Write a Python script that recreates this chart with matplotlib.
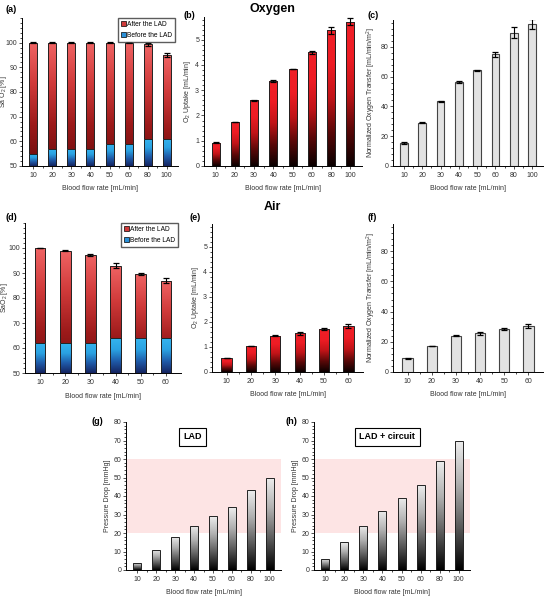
import numpy as np
import matplotlib
matplotlib.use('Agg')
import matplotlib.pyplot as plt
from matplotlib.colors import LinearSegmentedColormap
from matplotlib.patches import Patch
from matplotlib.ticker import MultipleLocator, FixedLocator

plt.rcParams['font.family'] = ['Liberation Sans', 'DejaVu Sans']
plt.rcParams['mathtext.default'] = 'regular'

# --- data ---
flow_o2 = ['10', '20', '30', '40', '50', '60', '80', '100']
flow_air = ['10', '20', '30', '40', '50', '60']

sao2_after_o2 = [100, 100, 100, 100, 100, 100, 99.3, 95.0]
sao2_after_o2_err = [0.1, 0.1, 0.1, 0.1, 0.1, 0.1, 0.5, 1.0]
sao2_before_o2 = [55, 57, 57, 57, 59, 59, 61, 61]

uptake_o2 = [0.92, 1.75, 2.60, 3.37, 3.85, 4.50, 5.37, 5.72]
uptake_o2_err = [0.02, 0.01, 0.01, 0.03, 0.01, 0.06, 0.15, 0.13]

transfer_o2 = [15.3, 29.0, 43.3, 56.3, 64.2, 75.0, 89.5, 95.2]
transfer_o2_err = [0.5, 0.3, 0.2, 0.8, 0.3, 1.5, 3.5, 3.2]

sao2_after_air = [100, 99.0, 97.3, 93.0, 89.7, 87.0]
sao2_after_air_err = [0.1, 0.1, 0.5, 0.9, 0.5, 0.9]
sao2_before_air = [62, 62, 62, 64, 64, 64]

uptake_air = [0.55, 1.03, 1.44, 1.55, 1.71, 1.83]
uptake_air_err = [0.01, 0.01, 0.02, 0.06, 0.03, 0.07]

transfer_air = [9.0, 17.3, 24.0, 25.8, 28.3, 30.5]
transfer_air_err = [0.2, 0.2, 0.4, 1.0, 0.6, 1.5]

dp_lad = [4, 11, 18, 24, 29, 34, 43, 50]
dp_circuit = [6, 15, 24, 32, 39, 46, 59, 70]

# 色
cm_sat_red = LinearSegmentedColormap.from_list('satred', ['#6a0c0c', '#9c1a1a', '#d03a3a', '#f06464'])
cm_sat_blue = LinearSegmentedColormap.from_list('satblue', ['#152460', '#1f5aa8', '#2aa2e2', '#35b4ee'])
cm_red = LinearSegmentedColormap.from_list('red', ['#0a0000', '#5a0808', '#c01418', '#ee1c24', '#f02028'])
cm_gray = LinearSegmentedColormap.from_list('gray', ['#000000', '#5a5a5a', '#b0b0b0', '#eeeeee'])

fig = plt.figure(figsize=(5.46, 5.97), dpi=100)
W, H = 546, 597


def add_ax(x0, y0, x1, y1):
    # ピクセル座標 -> figure座標
    return fig.add_axes([x0 / W, 1 - y1 / H, (x1 - x0) / W, (y1 - y0) / H])


def gradient_bars(ax, vals, cmap, bottom=0, width=0.42, edge='#222222', zorder=2):
    x = np.arange(len(vals))
    heights = np.array(vals) - bottom
    bars = ax.bar(x, heights, width, bottom=bottom, facecolor='none',
                  edgecolor=edge, linewidth=0.7, zorder=zorder + 1)
    grad = np.linspace(0, 1, 256).reshape(-1, 1)
    for b in bars:
        x0, y0, w, h = b.get_x(), b.get_y(), b.get_width(), b.get_height()
        im = ax.imshow(grad, extent=(x0, x0 + w, y0, y0 + h), origin='lower',
                       aspect='auto', cmap=cmap, zorder=zorder, interpolation='bilinear')
        im.set_clip_path(b)
    return bars


def style(ax, labels, ylim, major, minor, ylabel, xlabel=True):
    n = len(labels)
    ax.set_xlim(-0.6, n - 0.4)
    ax.set_ylim(*ylim)
    ax.set_xticks(np.arange(n))
    ax.set_xticklabels(labels)
    ax.xaxis.set_minor_locator(FixedLocator(np.arange(n - 1) + 0.5))
    ax.yaxis.set_major_locator(MultipleLocator(major))
    ax.yaxis.set_minor_locator(MultipleLocator(minor))
    for s in ['top', 'right']:
        ax.spines[s].set_visible(False)
    for s in ['left', 'bottom']:
        ax.spines[s].set_linewidth(0.7)
    ax.tick_params(labelsize=5, length=2, width=0.6, colors='#333333')
    ax.tick_params(which='minor', length=1.5, width=0.5)
    ax.tick_params(axis='x', pad=2.5)
    ax.tick_params(axis='y', pad=1.5)
    ax.set_ylabel(ylabel, fontsize=5, labelpad=1.5, color='#333333')
    if xlabel:
        ax.set_xlabel('Blood flow rate [mL/min]', fontsize=5, labelpad=4.5, color='#333333')


def errbars(ax, vals, err):
    ax.errorbar(np.arange(len(vals)), vals, yerr=err, fmt='none', ecolor='black',
                elinewidth=0.8, capsize=2.5, capthick=0.9, zorder=5)


def sat_legend(ax):
    handles = [Patch(facecolor='#d03a3a', edgecolor='black', linewidth=0.5, label='After the LAD'),
               Patch(facecolor='#2a90d8', edgecolor='black', linewidth=0.5, label='Before the LAD')]
    ax.legend(handles=handles, loc='upper right', bbox_to_anchor=(1.0, 1.02), fontsize=4.8,
              frameon=True, edgecolor='#333333', fancybox=False, handlelength=0.7,
              handleheight=0.7, handletextpad=0.2, borderpad=0.4, labelspacing=0.6)


def panel_label(x, y, s):
    fig.text(x / W, 1 - y / H, s, fontsize=6.5, fontweight='bold', ha='left', va='center')


# (a)
ax = add_ax(22, 18, 178, 166)
gradient_bars(ax, sao2_after_o2, cm_sat_red, bottom=50)
gradient_bars(ax, sao2_before_o2, cm_sat_blue, bottom=50, zorder=4)
errbars(ax, sao2_after_o2, sao2_after_o2_err)
style(ax, flow_o2, (50, 110), 10, 2, 'Sa O$_2$ [%]')
ax.set_yticks([50, 60, 70, 80, 90, 100])
ax.yaxis.set_label_coords(-12.5 / 156, 0.5)
sat_legend(ax)

# (b)
ax = add_ax(204, 17, 362, 166)
gradient_bars(ax, uptake_o2, cm_red)
errbars(ax, uptake_o2, uptake_o2_err)
style(ax, flow_o2, (0, 5.9), 1, 0.2, 'O$_2$ Uptake [mL/min]')

# (c)
ax = add_ax(393, 20, 543, 166)
ax.bar(np.arange(len(transfer_o2)), transfer_o2, 0.42, facecolor='#e2e2e2',
       edgecolor='#444444', linewidth=0.8, zorder=2)
errbars(ax, transfer_o2, transfer_o2_err)
style(ax, flow_o2, (0, 98), 20, 4, 'Normalized Oxygen Transfer [mL/min/m$^2$]')

# (d)
ax = add_ax(25, 223, 181, 373)
gradient_bars(ax, sao2_after_air, cm_sat_red, bottom=50)
gradient_bars(ax, sao2_before_air, cm_sat_blue, bottom=50, zorder=4)
errbars(ax, sao2_after_air, sao2_after_air_err)
style(ax, flow_air, (50, 110), 10, 2, 'SaO$_2$ [%]')
ax.set_yticks([50, 60, 70, 80, 90, 100])
ax.yaxis.set_label_coords(-14.5 / 156, 0.5)
sat_legend(ax)

# (e)
ax = add_ax(212, 224, 363, 372)
gradient_bars(ax, uptake_air, cm_red)
errbars(ax, uptake_air, uptake_air_err)
style(ax, flow_air, (0, 5.9), 1, 0.2, 'O$_2$ Uptake [mL/min]')

# (f)
ax = add_ax(393, 224, 543, 372)
ax.bar(np.arange(len(transfer_air)), transfer_air, 0.42, facecolor='#e2e2e2',
       edgecolor='#444444', linewidth=0.8, zorder=2)
errbars(ax, transfer_air, transfer_air_err)
style(ax, flow_air, (0, 98), 20, 4, 'Normalized Oxygen Transfer [mL/min/m$^2$]')

# (g), (h) 圧損
for (x0, x1), vals, box, bx in [((126, 281), dp_lad, 'LAD', 0.43),
                                ((314, 470), dp_circuit, 'LAD + circuit', 0.47)]:
    ax = add_ax(x0, 422, x1, 570)
    ax.axhspan(20, 60, color='#fde4e4', zorder=0, lw=0)
    gradient_bars(ax, vals, cm_gray)
    style(ax, flow_o2, (0, 80), 10, 2, 'Pressure Drop [mmHg]')
    ax.text(bx, 0.9, box, transform=ax.transAxes, ha='center', va='center', fontsize=6.5,
            fontweight='bold', bbox=dict(boxstyle='square,pad=0.5', facecolor='white',
                                         edgecolor='black', linewidth=0.8))

panel_label(5, 10, '(a)')
panel_label(184, 15, '(b)')
panel_label(368, 15, '(c)')
panel_label(5, 217, '(d)')
panel_label(189, 217, '(e)')
panel_label(368, 217, '(f)')
panel_label(92, 421, '(g)')
panel_label(285, 421, '(h)')

fig.text(272 / W, 1 - 9 / H, 'Oxygen', fontsize=9, fontweight='bold', ha='center', va='center')
fig.text(272 / W, 1 - 207 / H, 'Air', fontsize=9, fontweight='bold', ha='center', va='center')

fig.savefig('out.png', dpi=100, facecolor='white')
